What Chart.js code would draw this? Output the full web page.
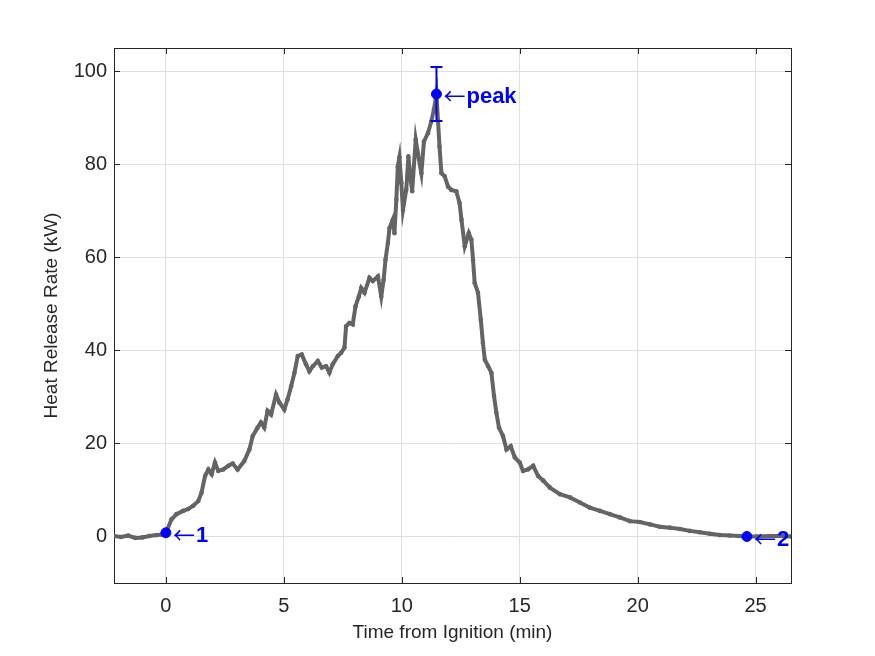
<!DOCTYPE html>
<html>
<head>
<meta charset="utf-8">
<script src="https://cdn.jsdelivr.net/npm/chart.js@4"></script>
<style>
  body { margin: 0; background: #fff; }
  #wrap { width: 875px; height: 656px; }
</style>
</head>
<body>
<div id="wrap"><canvas id="hrrChart" width="875" height="656"></canvas></div>
<script>
// time from ignition (min) and heat release rate (kW)
const timeMin = [
  -2.2, -1.9, -1.6, -1.3, -1.0, -0.7, -0.4, -0.2, 0.0, 0.24,
  0.45, 0.73, 0.95, 1.16, 1.37, 1.51, 1.66, 1.80, 1.94, 2.08,
  2.22, 2.43, 2.65, 2.83, 3.04, 3.32, 3.54, 3.68, 3.89, 4.03,
  4.17, 4.31, 4.46, 4.67, 4.81, 5.02, 5.16, 5.31, 5.45, 5.59,
  5.76, 5.94, 6.08, 6.23, 6.44, 6.61, 6.79, 6.93, 7.07, 7.29,
  7.43, 7.57, 7.64, 7.78, 7.92, 8.04, 8.18, 8.28, 8.42, 8.63,
  8.77, 8.99, 9.13, 9.23, 9.31, 9.41, 9.48, 9.62, 9.69, 9.77,
  9.83, 9.90, 9.98, 10.05, 10.19, 10.28, 10.36, 10.44, 10.59, 10.68,
  10.83, 10.94, 11.11, 11.25, 11.36, 11.47, 11.60, 11.68, 11.82, 11.96,
  12.10, 12.31, 12.45, 12.53, 12.67, 12.84, 12.95, 13.02, 13.09, 13.23,
  13.35, 13.44, 13.52, 13.66, 13.80, 13.91, 14.01, 14.12, 14.29, 14.44,
  14.62, 14.79, 15.00, 15.14, 15.35, 15.57, 15.78, 16.00, 16.28, 16.70,
  17.13, 17.55, 17.97, 18.40, 18.82, 19.24, 19.67, 20.09, 20.52, 20.94,
  21.36, 21.79, 22.21, 22.63, 23.06, 23.48, 23.90, 24.30, 24.63, 25.05,
  25.60, 26.17, 26.50
];
const hrrKW = [
  0.1, -0.1, 0.2, -0.3, -0.2, 0.1, 0.3, 0.4, 0.8, 3.7,
  4.8, 5.5, 5.9, 6.6, 7.6, 9.4, 13.0, 14.4, 13.4, 15.9,
  14.1, 14.4, 15.2, 15.7, 14.4, 16.2, 18.7, 21.6, 23.4, 24.5,
  23.4, 27.0, 26.2, 30.5, 28.8, 27.3, 29.5, 32.3, 35.2, 38.8,
  39.1, 37.0, 35.5, 36.6, 37.7, 36.3, 36.6, 35.2, 37.0, 38.8,
  39.5, 40.6, 45.2, 45.9, 45.6, 49.5, 51.6, 53.4, 52.4, 55.6,
  54.9, 55.9, 51.6, 55.2, 59.5, 63.1, 66.3, 68.1, 65.2, 72.4,
  79.5, 81.5, 76.0, 70.2, 74.5, 81.7, 77.4, 74.2, 85.3, 82.4,
  78.1, 84.9, 86.7, 89.2, 91.7, 95.1, 83.8, 78.1, 77.4, 75.2,
  74.5, 74.2, 71.7, 68.1, 62.4, 65.2, 63.8, 59.5, 54.5, 52.4,
  46.6, 41.6, 38.0, 36.6, 35.2, 30.2, 26.6, 23.4, 21.6, 18.7,
  19.4, 17.0, 15.9, 14.1, 14.4, 15.2, 13.0, 12.0, 10.5, 9.1,
  8.4, 7.3, 6.2, 5.5, 4.8, 4.1, 3.3, 3.1, 2.6, 2.1,
  1.9, 1.6, 1.2, 0.9, 0.6, 0.3, 0.2, 0.1, 0.0, 0.0,
  0.1, 0.1, 0.0
];

// marked events
const eventTime = [0.0, 11.47, 24.63];
const eventHRR = [0.8, 95.1, 0.0];
const eventLabels = ['1', 'peak', '2'];
const peakErr = 5.8;

const xTicks = [0, 5, 10, 15, 20, 25];
const yTicks = [0, 20, 40, 60, 80, 100];

const axisColor = '#262626';
const tickFont = { family: "'Liberation Sans', Arial, sans-serif", size: 20 };
const titleFont = { family: "'Liberation Sans', Arial, sans-serif", size: 19 };

// box round the axes with inward ticks on all four sides, like matlab
const boxPlugin = {
  id: 'box',
  beforeDatasetsDraw(chart) {
    const { ctx, chartArea: a, scales } = chart;
    const len = 6;
    ctx.save();
    ctx.strokeStyle = axisColor;
    ctx.lineWidth = 1;
    ctx.beginPath();
    scales.x.ticks.forEach(t => {
      const px = Math.round(scales.x.getPixelForValue(t.value)) + 0.5;
      ctx.moveTo(px, a.bottom); ctx.lineTo(px, a.bottom - len);
      ctx.moveTo(px, a.top); ctx.lineTo(px, a.top + len);
    });
    scales.y.ticks.forEach(t => {
      const py = Math.round(scales.y.getPixelForValue(t.value)) + 0.5;
      ctx.moveTo(a.left, py); ctx.lineTo(a.left + len, py);
      ctx.moveTo(a.right, py); ctx.lineTo(a.right - len, py);
    });
    ctx.stroke();
    ctx.strokeRect(Math.round(a.left) + 0.5, Math.round(a.top) + 0.5,
      Math.round(a.right - a.left), Math.round(a.bottom - a.top));
    ctx.restore();
  }
};

// error bar on the peak and the arrow labels
const notePlugin = {
  id: 'notes',
  afterDatasetsDraw(chart) {
    const { ctx, scales } = chart;
    const x = scales.x, y = scales.y;
    ctx.save();
    ctx.strokeStyle = '#0000ff';
    ctx.fillStyle = '#0000ff';
    ctx.lineWidth = 2;
    const px = x.getPixelForValue(eventTime[1]);
    const top = y.getPixelForValue(eventHRR[1] + peakErr);
    const bot = y.getPixelForValue(eventHRR[1] - peakErr);
    ctx.beginPath();
    ctx.moveTo(px, top); ctx.lineTo(px, bot);
    ctx.moveTo(px - 6, top); ctx.lineTo(px + 6, top);
    ctx.moveTo(px - 6, bot); ctx.lineTo(px + 6, bot);
    ctx.stroke();

    ctx.textBaseline = 'middle';
    ctx.textAlign = 'left';
    eventLabels.forEach((lab, i) => {
      const lx = x.getPixelForValue(eventTime[i]) + 7;
      const ly = y.getPixelForValue(eventHRR[i]) + 2;
      ctx.font = "22px 'Noto Sans CJK SC', 'DejaVu Sans', sans-serif";
      ctx.fillText('\u2190', lx, ly);
      const w = ctx.measureText('\u2190').width;
      ctx.font = "bold 22px 'Liberation Sans', Arial, sans-serif";
      ctx.fillText(lab, lx + w + 1, ly + 1);
    });
    ctx.restore();
  }
};

new Chart(document.getElementById('hrrChart'), {
  type: 'scatter',
  data: {
    datasets: [
      {
        data: eventTime.map((t, i) => ({ x: t, y: eventHRR[i] })),
        backgroundColor: '#0000ff',
        borderColor: '#0000ff',
        pointRadius: 5,
        showLine: false,
        order: 0
      },
      {
        data: timeMin.map((t, i) => ({ x: t, y: hrrKW[i] })),
        showLine: true,
        borderColor: '#646464',
        backgroundColor: '#646464',
        borderWidth: 4,
        pointRadius: 2.3,
        pointBorderWidth: 0,
        order: 1
      }
    ]
  },
  options: {
    responsive: false,
    animation: false,
    devicePixelRatio: 1,
    layout: { padding: { top: 48, right: 84, left: 0, bottom: 0 } },
    plugins: { legend: { display: false }, tooltip: { enabled: false } },
    scales: {
      x: {
        type: 'linear',
        min: -2.2,
        max: 26.5,
        afterBuildTicks: s => { s.ticks = xTicks.map(v => ({ value: v })); },
        afterFit: s => { s.height = 73; },
        grid: { color: '#dfdfdf', drawTicks: false },
        border: { display: false },
        ticks: { color: axisColor, font: tickFont, padding: 11, maxRotation: 0 },
        title: { display: true, text: 'Time from Ignition (min)', color: axisColor,
                 font: titleFont, padding: { top: 0, bottom: 12 } }
      },
      y: {
        type: 'linear',
        min: -10,
        max: 105,
        afterBuildTicks: s => { s.ticks = yTicks.map(v => ({ value: v })); },
        afterFit: s => { s.width = 114; },
        grid: { color: '#dfdfdf', drawTicks: false },
        border: { display: false },
        ticks: { color: axisColor, font: tickFont, padding: 7 },
        title: { display: true, text: 'Heat Release Rate (kW)', color: axisColor,
                 font: titleFont, padding: { top: 40, bottom: 0 } }
      }
    }
  },
  plugins: [boxPlugin, notePlugin]
});
</script>
</body>
</html>
